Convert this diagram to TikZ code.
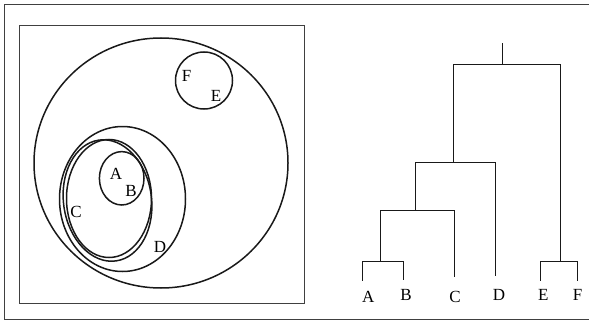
\documentclass[tikz,border=0pt]{standalone}
\usepackage{fontspec}
\setmainfont{Liberation Serif}
\tikzset{
  lbl/.style={font=\fontsize{17}{17}\selectfont,inner sep=0pt},
  ln/.style={line width=1.5pt,black!90},
  frm/.style={line width=1.6pt,black!75}
}
\begin{document}
\begin{tikzpicture}[x=1pt,y=-1pt]
      \useasboundingbox (0,0) rectangle (589,321);
      % outer frame (right side runs off the page)
      \draw[frm] (589,4.5) -- (4.5,4.5) -- (4.5,319.5) -- (589,319.5);
      % inner frame round the Venn diagram
      \draw[frm] (19.5,25.5) rectangle (304.5,303.5);

      % nested sets
      \draw[ln] (161,163) ellipse (127 and 125);
      \draw[ln] (204,80.5) circle (28.5);
      \draw[ln] (122.5,199) ellipse (63 and 72.5);
      \draw[ln] (109,198.5) ellipse (42.5 and 59);
      \draw[ln,rotate around={8:(107.5,200.5)}] (107.5,200.5) ellipse (44 and 61);
      \draw[ln] (121.7,178.3) ellipse (22.3 and 26.7);

      \node[lbl] (vF) at (186.7,76) {F};
      \node[lbl] (vE) at (216,96) {E};
      \node[lbl] (vA) at (116,174) {A};
      \node[lbl] (vB) at (131,190.5) {B};
      \node[lbl] (vC) at (76,211.7) {C};
      \node[lbl] (vD) at (160,246.7) {D};

      % dendrogram joints and leaf ends
      \coordinate (top) at (502.5,43.5);
      \coordinate (r) at (502.5,64.5);
      \coordinate (jL) at (453.5,162.5);
      \coordinate (jR) at (560.5,261.5);
      \coordinate (jABC) at (415.5,210.5);
      \coordinate (jAB) at (380.5,261.5);
      \coordinate (endA) at (362.5,280.5);
      \coordinate (endB) at (403.5,279.5);
      \coordinate (endC) at (454.5,276.5);
      \coordinate (endD) at (495.5,275.5);
      \coordinate (endE) at (540.5,280.5);
      \coordinate (endF) at (577.5,280.5);

      \draw[ln] (top) -- (r);
      \draw[ln] (jL) |- (r) -| (jR);
      \draw[ln] (jABC) |- (jL) -| (endD);
      \draw[ln] (jAB) |- (jABC) -| (endC);
      \draw[ln] (endA) |- (jAB) -| (endB);
      \draw[ln] (endE) |- (jR) -| (endF);

      \node[lbl] (tA) at (368.3,296.7) {A};
      \node[lbl] (tB) at (406,295) {B};
      \node[lbl] (tC) at (455,296.7) {C};
      \node[lbl] (tD) at (499,295) {D};
      \node[lbl] (tE) at (543.3,295) {E};
      \node[lbl] (tF) at (577.7,295) {F};
    \end{tikzpicture}
\end{document}
